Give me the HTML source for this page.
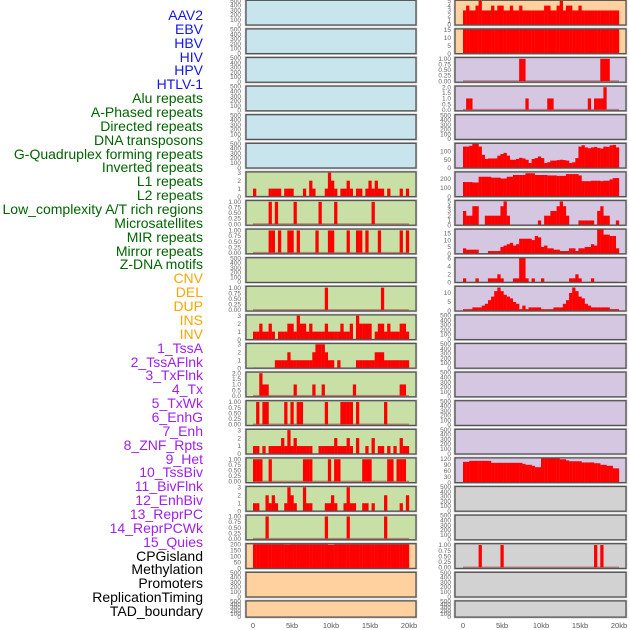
<!DOCTYPE html>
<html><head><meta charset="utf-8">
<style>
html,body{margin:0;padding:0;background:#fff;}
#wrap{position:relative;width:630px;height:630px;overflow:hidden;}
.lab{position:absolute;right:427px;font-family:"Liberation Sans",sans-serif;font-size:14px;line-height:16px;white-space:nowrap;}
svg{position:absolute;left:0;top:0;}
</style></head>
<body>
<div id="wrap">
<div id="labels"></div>
<svg id="chart" width="630" height="630"></svg>
</div>
<script>
const trackNames = ["AAV2","EBV","HBV","HIV","HPV","HTLV-1","Alu repeats","A-Phased repeats","Directed repeats","DNA transposons","G-Quadruplex forming repeats","Inverted repeats","L1 repeats","L2 repeats","Low_complexity A/T rich regions","Microsatellites","MIR repeats","Mirror repeats","Z-DNA motifs","CNV","DEL","DUP","INS","INV","1_TssA","2_TssAFlnk","3_TxFlnk","4_Tx","5_TxWk","6_EnhG","7_Enh","8_ZNF_Rpts","9_Het","10_TssBiv","11_BivFlnk","12_EnhBiv","13_ReprPC","14_ReprPCWk","15_Quies","CPGisland","Methylation","Promoters","ReplicationTiming","TAD_boundary"];
const binKb = [0.4];
const tick500 = [0,100,200,300,400,500];
const tick3 = [0,1,2,3];
const tick1 = [0,0.25,0.5,0.75,1];
const tick2 = [0,0.5,1,1.5,2];
const tick200 = [0,50,100,150,200];
const tick5 = [0,1,2,3,4,5];
const tick15 = [0,5,10,15];
const tick150 = [0,50,100];
const tick280 = [0,100,200];
const tick6 = [0,2,4,6];
const tick13 = [0,5,10];
const tick120 = [0,30,60,90,120];
const xTicks = [0,5,10,15,20];
const xTickLabels = ["0","5kb","10kb","15kb","20kb"];

const L6 = [1,0,0,0,0,1,1,1,1,0,1,1,1,0,0,0,1,0,2,1,0,0,0,1,3,2,1,0,1,1,2,1,0,1,1,0,1,2,1,2,1,1,0,1,0,0,0,1,0,1];
const L7 = [0,0,0,0,0,1,0,1,0,0,0,0,0,1,0,0,0,0,0,0,0,1,0,0,0,0,1,0,0,0,0,0,0,0,0,0,0,0,1,0,0,0,0,0,0,0,0,0,0,0];
const L8 = [0,0,0,0,0,1,1,0,1,0,0,1,1,0,1,0,0,0,0,0,1,0,0,0,1,1,0,0,0,0,1,0,0,1,1,0,1,0,0,0,1,0,0,0,0,0,0,1,0,1];
const L10 = [0,0,0,0,0,0,0,0,0,0,0,0,0,0,0,0,0,0,0,0,0,0,0,1,0,0,0,0,0,0,0,0,0,0,0,0,0,0,0,0,0,1,0,0,0,0,0,0,0,0];
const L11 = [1,1,2,1,1,2,1,0,1,1,1,2,2,1,3,2,2,1,2,1,1,1,1,2,1,1,1,1,2,1,1,2,0,3,2,2,2,2,0,1,2,2,1,2,1,1,1,2,2,1];
const L12 = [0,0,0,0,0,0,0,1,1,1,1,2,1,1,1,1,1,1,1,2,3,3,3,2,1,1,0,1,0,0,0,0,0,1,1,1,1,1,1,2,2,2,1,1,1,1,1,1,1,1];
const L13 = [0,0,2,1,1,0,0,0,0,0,0,0,0,1,0,0,0,0,0,1,0,0,1,0,0,0,0,0,0,0,0,0,1,0,0,0,0,0,0,0,0,0,0,0,0,0,0,1,1,0];
const L14 = [0,1,0,1,1,0,0,0,0,0,1,0,1,0,1,1,0,0,0,0,0,0,0,1,0,0,0,0,1,1,1,1,0,1,0,0,0,0,0,0,0,0,1,0,0,0,0,0,0,0];
const L15 = [1,1,0,1,0,1,1,1,1,2,1,3,1,2,1,1,1,1,1,0,0,1,1,1,1,1,2,1,1,1,2,1,0,2,0,0,1,0,2,0,1,1,0,1,0,1,0,2,1,1];
const L16 = [1,1,1,0,0,1,0,0,0,0,0,0,0,0,0,0,1,1,1,0,0,0,0,0,1,0,1,1,0,0,0,0,0,0,0,1,1,1,0,0,0,0,0,1,1,0,1,1,1,0];
const L17 = [1,1,0,0,2,1,2,1,0,0,1,3,2,1,0,0,3,1,1,0,0,0,0,1,1,2,1,0,0,1,3,1,1,0,0,1,1,0,1,0,0,0,2,0,0,0,0,1,0,2];
const L18 = [0,0,0,0,1,0,0,0,0,0,0,0,0,0,0,0,0,0,0,0,0,0,0,1,0,0,0,0,0,0,1,0,0,0,0,0,0,0,0,0,0,0,1,0,0,0,0,0,0,0];
const L19 = [200,200,200,200,200,200,200,200,200,200,198,198,200,200,200,200,200,200,200,200,200,200,200,200,196,196,200,200,200,200,200,200,200,200,200,200,200,200,200,200,200,200,200,200,200,200,200,200,200,200];

const R0 = [3,4,3,3,4,5,3,3,3,4,3,4,4,3,3,4,3,3,4,3,3,3,3,3,3,3,4,4,3,3,4,5,3,4,4,3,3,4,3,3,3,3,3,3,3,3,3,3,3,3];
const R1 = [16,16,16,16,16,16,16,16,16,16,16,16,16,16,16,16,16,16,16,16,16,16,16,16,16,16,16,16,16,16,16,16,16,16,16,16,16,16,16,16,16,16,16,16,16,16,16,16,16,16];
const R2 = [0,0,0,0,0,0,0,0,0,0,0,0,0,0,0,0,0,0,1,1,0,0,0,0,0,0,0,0,0,0,0,0,0,0,0,0,0,0,0,0,0,0,0,0,1,1,1,0,0,0];
const R3 = [0,1,1,0,0,0,0,0,0,0,0,0,0,0,0,0,0,0,0,0,1,0,0,0,0,0,0,1,1,0,0,0,0,0,0,0,0,0,0,0,1,0,1,1,1,2,0,0,0,0];
const R5 = [130,130,135,150,148,130,80,55,58,58,58,75,85,92,75,50,50,55,62,58,50,30,55,60,70,60,30,35,45,45,48,50,48,45,30,35,60,130,138,125,120,125,128,122,118,130,128,138,140,125];
const R6 = [165,165,165,160,160,225,225,225,225,215,215,215,205,205,225,225,245,245,245,245,265,265,265,245,245,245,245,240,240,240,235,235,235,255,255,255,255,240,175,175,175,180,180,180,175,180,180,195,210,210];
const R7 = [3,2,2,4,4,0,0,2,2,2,2,2,4,5,2,0,0,0,0,0,0,0,0,0,1,0,2,2,3,3,4,5,4,2,0,0,0,1,1,1,1,1,0,3,4,2,2,0,0,1];
const R8 = [4,3,3,3,3,0,0,0,2,2,2,2,5,6,7,8,6,7,11,11,11,11,10,13,12,5,6,4,4,3,3,2,2,2,4,4,2,4,4,5,5,7,6,18,18,14,14,13,13,4];
const R9 = [1,0,0,0,1,0,0,0,1,1,1,2,1,0,0,0,1,1,6,6,1,0,1,0,0,1,0,0,0,0,0,0,0,0,1,1,2,1,0,0,0,1,0,0,0,0,0,0,0,0];
const R10 = [1,1,1,2,2,2,3,4,6,8,11,13,11,9,8,7,5,4,1,3,1,2,2,2,2,1,1,1,1,2,2,2,4,6,10,13,11,8,7,4,3,2,2,2,2,2,2,1,1,1];
const R16 = [105,105,110,110,110,110,110,110,110,100,100,100,100,100,100,100,100,100,100,95,90,90,85,78,78,125,125,122,125,125,125,118,118,112,108,108,108,108,102,102,102,102,98,98,90,90,85,85,72,72];
const R19 = [0,0,0,0,0,1,0,0,0,0,0,0,1,0,0,0,0,0,0,0,0,0,0,0,0,0,0,0,0,0,0,0,0,0,0,0,0,0,0,0,0,0,1,0,1,0,0,0,0,0];

const BLUE="#c8e4ec", GREEN="#c8e0a6", PEACH="#ffd19f", LAV="#d5c6e2", GREY="#d2d2d2";
const leftPanels = [
 [BLUE,-8,508,tick500,0,null],[BLUE,-8,508,tick500,0,null],[BLUE,-8,508,tick500,0,null],
 [BLUE,-8,508,tick500,0,null],[BLUE,-8,508,tick500,0,null],[BLUE,-8,508,tick500,0,null],
 [GREEN,0,3.1,tick3,0,L6],[GREEN,-0.05,1.06,tick1,2,L7],[GREEN,-0.05,1.06,tick1,2,L8],
 [GREEN,-8,508,tick500,0,null],[GREEN,-0.05,1.06,tick1,2,L10],[GREEN,0,3.1,tick3,0,L11],
 [GREEN,0,3.1,tick3,0,L12],[GREEN,-0.1,2.1,tick2,1,L13],[GREEN,-0.05,1.06,tick1,2,L14],
 [GREEN,0,3.1,tick3,0,L15],[GREEN,-0.05,1.06,tick1,2,L16],[GREEN,0,3.1,tick3,0,L17],
 [GREEN,-0.05,1.06,tick1,2,L18],[PEACH,0,205,tick200,0,L19],[PEACH,-8,508,tick500,0,null],
 [PEACH,-8,508,tick500,0,null]];
const rightPanels = [
 [PEACH,0,5.1,tick5,0,R0],[PEACH,0,15.5,tick15,0,R1],[LAV,-0.05,1.06,tick1,2,R2],
 [LAV,-0.1,2.1,tick2,1,R3],[LAV,-8,508,tick500,0,null],[LAV,0,150,tick150,0,R5],
 [LAV,0,280,tick280,0,R6],[LAV,0,5.2,tick5,0,R7],[LAV,0,18,tick15,0,R8],
 [LAV,0,6.1,tick6,0,R9],[LAV,0,13.7,tick13,0,R10],[LAV,-8,508,tick500,0,null],
 [LAV,-8,508,tick500,0,null],[LAV,-8,508,tick500,0,null],[LAV,-8,508,tick500,0,null],
 [LAV,-8,508,tick500,0,null],[LAV,0,125,tick120,0,R16],[GREY,-8,508,tick500,0,null],
 [GREY,-8,508,tick500,0,null],[GREY,-0.05,1.06,tick1,2,R19],[GREY,-8,508,tick500,0,null],
 [GREY,-8,508,tick500,0,null]];

const labs = document.getElementById('labels');
trackNames.forEach((n,i)=>{
  const d=document.createElement('div');
  d.className='lab';
  
  
  const c = i<6 ? "#1515ee" : i<19 ? "#006400" : i<24 ? "#ffa500" : i<39 ? "#a020f0" : "#000";
  d.style.color=c;
  d.style.top=(7 + i*13.86)+'px';
  d.textContent=n;
  labs.appendChild(d);
});

const NS="http://www.w3.org/2000/svg";
const svg=document.getElementById('chart');
function mk(tag,attrs){const e=document.createElementNS(NS,tag);for(const k in attrs)e.setAttribute(k,attrs[k]);return e;}
function xScale(x0,kb){return x0+kb*7.8;}
function drawPanel(cfg,i,px,pw,dataX0,tickRight,side){
  const top=i*28.6+0.3, h= i===21?16.2:24.7;
  const [bg,ymin,ymax,ticks,dec,data]=cfg;
  const yS=v=>top+h-(v-ymin)/(ymax-ymin)*h;
  const g=mk('g',{});
  
  
  svg.appendChild(g);
  g.appendChild(mk('rect',{x:px-0.8,y:top-0.8,width:pw+1.6,height:h+1.6,fill:'none',stroke:'#c8c8c8','stroke-width':1}));
  const r=mk('rect',{x:px,y:top,width:pw,height:h,fill:bg});
  
  
  g.appendChild(r);
  if(data){
    const clip='c'+side+i;
    const cp=mk('clipPath',{id:clip});cp.appendChild(mk('rect',{x:px,y:top,width:pw,height:h}));g.appendChild(cp);
    const bars=mk('g',{'clip-path':'url(#'+clip+')'});g.appendChild(bars);
    bars.appendChild(mk('line',{x1:xScale(dataX0,0),x2:xScale(dataX0,20),y1:yS(0),y2:yS(0),stroke:'rgba(170,60,60,0.55)','stroke-width':1.6}));
    data.forEach((v,k)=>{
      if(v<=0)return;
      const xa=xScale(dataX0,k*binKb[0]), xb=xScale(dataX0,(k+1)*binKb[0]);
      const b=mk('rect',{x:xa,y:yS(v),width:xb-xa+0.15,height:yS(0)-yS(v),fill:'#ff0000'});
      
      
      bars.appendChild(b);
    });
  }
  g.appendChild(mk('rect',{x:px,y:top,width:pw,height:h,fill:'none',stroke:'#555','stroke-width':1.3}));
  ticks.forEach(t=>{
    const tx=mk('text',{x:tickRight,y:yS(t)+2.2,'text-anchor':'end','font-size':6.5,fill:'#666','font-family':'Liberation Sans, sans-serif'});
    
    
    tx.textContent=t.toFixed(dec);
    g.appendChild(tx);
  });
}
leftPanels.forEach((c,i)=>drawPanel(c,i,246,170,253,241,'left'));
rightPanels.forEach((c,i)=>drawPanel(c,i,455,171,463,451,'right'));
[[253,'left'],[463,'right']].forEach(([x0,side])=>{
  xTicks.forEach((t,j)=>{
    const tx=mk('text',{x:xScale(x0,t),y:628,'text-anchor':'middle','font-size':7.5,fill:'#555','font-family':'Liberation Sans, sans-serif'});
    
    
    tx.textContent=xTickLabels[j];
    svg.appendChild(tx);
  });
});
</script>
</body></html>
